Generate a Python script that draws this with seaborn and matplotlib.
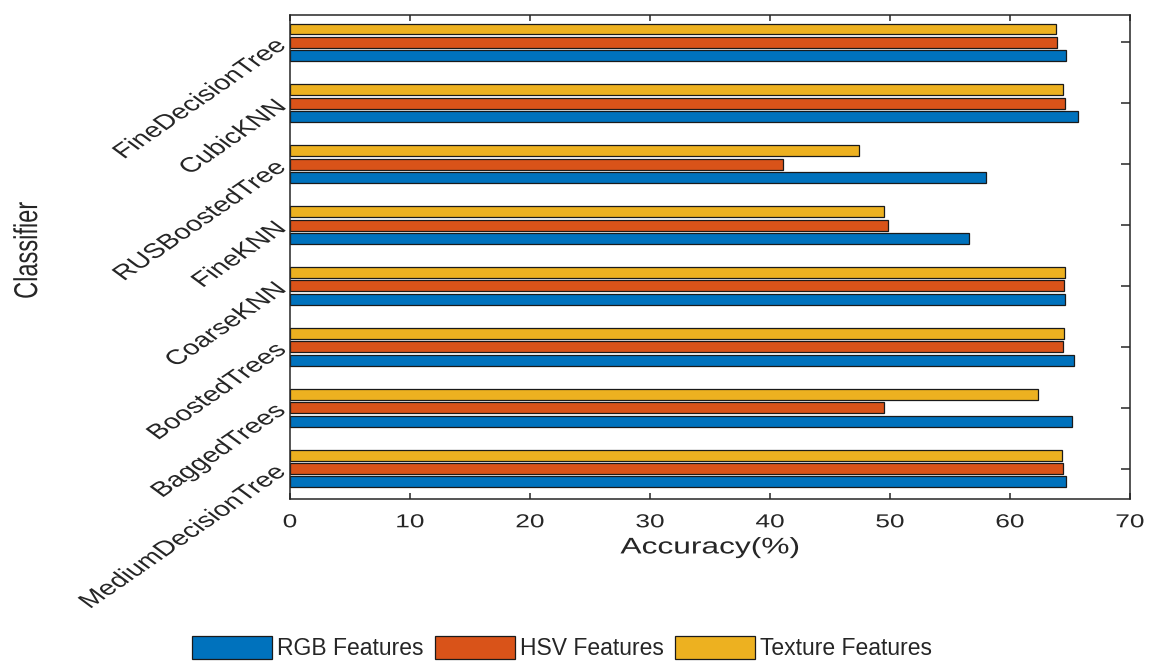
import matplotlib
matplotlib.use("Agg")
import matplotlib.pyplot as plt
import seaborn as sns
import pandas as pd
from matplotlib.patches import Patch
from matplotlib.patheffects import AbstractPathEffect
from matplotlib.transforms import Affine2D

# Classifiers listed top to bottom
classifiers = ["FineDecisionTree", "CubicKNN", "RUSBoostedTree", "FineKNN",
               "CoarseKNN", "BoostedTrees", "BaggedTrees", "MediumDecisionTree"]
rgb_acc = [64.7, 65.7, 58.0, 56.6, 64.6, 65.3, 65.2, 64.7]
hsv_acc = [63.9, 64.6, 41.1, 49.8, 64.5, 64.4, 49.5, 64.4]
texture_acc = [63.8, 64.4, 47.4, 49.5, 64.6, 64.5, 62.3, 64.3]

series_names = ["RGB Features", "HSV Features", "Texture Features"]
series_colors = ["#0072BD", "#D95319", "#EDB120"]
x_ticks = [0, 10, 20, 30, 40, 50, 60, 70]


class HorizontalStretch(AbstractPathEffect):
    """Widen glyphs horizontally (in display space) about a pivot point
    given as a fraction of the text line's extents."""

    def __init__(self, sx, pivot=(0.5, 0.5)):
        super().__init__()
        self.sx = sx
        self.pivot = pivot

    def draw_path(self, renderer, gc, tpath, affine, rgbFace=None):
        ext = tpath.get_extents()
        px = ext.x0 + self.pivot[0] * ext.width
        py = ext.y0 + self.pivot[1] * ext.height
        cx, cy = affine.transform((px, py))
        stretch = (Affine2D().translate(-cx, -cy)
                   .scale(self.sx, 1.0).translate(cx, cy))
        renderer.draw_path(gc, tpath, affine + stretch, rgbFace)


df = pd.concat([
    pd.DataFrame({"Classifier": classifiers, "Accuracy": vals, "Feature": name})
    for name, vals in zip(series_names, [rgb_acc, hsv_acc, texture_acc])
])

sns.set_theme(style="white")
plt.rcParams["font.family"] = ["Liberation Sans", "DejaVu Sans"]
axis_color = "#262626"
wide = 1.4

fig = plt.figure(figsize=(11.53, 6.61), dpi=100)
ax = fig.add_axes([290 / 1153, 1 - 499 / 661, 840 / 1153, 484 / 661])

# Texture drawn on top of each group, RGB at the bottom
hue_order = series_names[::-1]
palette = dict(zip(series_names, series_colors))
sns.barplot(data=df, x="Accuracy", y="Classifier", hue="Feature",
            order=classifiers, hue_order=hue_order, palette=palette,
            orient="h", width=0.66, gap=0.18, errorbar=None,
            edgecolor="#1a1a1a", linewidth=0.9, saturation=1.0,
            legend=False, ax=ax)

ax.set_xlim(0, 70)
ax.set_ylim(7.5, -0.45)
ax.set_xticks(x_ticks)
ax.set_xticklabels([str(t) for t in x_ticks], fontsize=13.5, color=axis_color)
ax.set_yticks(range(len(classifiers)))
ax.set_yticklabels(classifiers, fontsize=15, color=axis_color,
                   rotation=44, ha="right", va="center", rotation_mode="anchor")
ax.tick_params(axis="y", direction="in", length=6.8, width=1.1,
               color=axis_color, left=True, right=True, pad=6)
ax.tick_params(axis="x", direction="in", length=4.3, width=1.1,
               color=axis_color, top=True, bottom=True, pad=11)

for sp in ax.spines.values():
    sp.set_color(axis_color)
    sp.set_linewidth(1.1)

ax.set_xlabel("Accuracy(%)", fontsize=16.3, color=axis_color, labelpad=3)
ax.set_ylabel("Classifier", fontsize=17, color=axis_color)
ax.yaxis.set_label_coords(-0.295, 0.514)

for lbl in ax.get_xticklabels():
    lbl.set_path_effects([HorizontalStretch(wide, (0.5, 1.0))])
for lbl in ax.get_yticklabels():
    lbl.set_path_effects([HorizontalStretch(wide, (1.0, 0.5))])
ax.xaxis.label.set_path_effects([HorizontalStretch(wide, (0.5, 1.0))])
ax.yaxis.label.set_path_effects([HorizontalStretch(wide, (0.5, 0.0))])

handles = [Patch(facecolor=c, edgecolor="#1a1a1a", linewidth=0.9)
           for c in series_colors]
fig.legend(handles, series_names, loc="center", ncol=3, frameon=False,
           bbox_to_anchor=(562 / 1153, 1 - 648 / 661), fontsize=16.5,
           labelcolor=axis_color,
           handlelength=3.5, handleheight=1.14, handletextpad=0.22,
           columnspacing=0.48)

fig.savefig("out.png", dpi=100)
